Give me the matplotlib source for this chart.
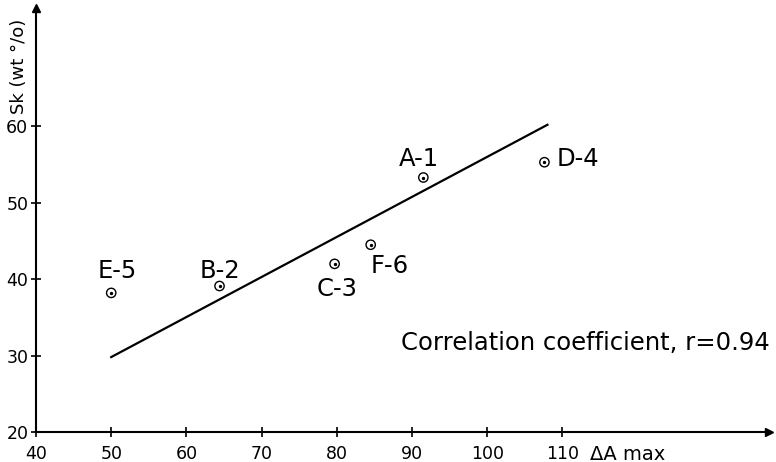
import matplotlib
matplotlib.use("Agg")
import matplotlib.pyplot as plt

# Data
labels = ["E-5", "B-2", "C-3", "F-6", "A-1", "D-4"]
delta_a_max = [50.0, 64.4, 79.7, 84.5, 91.5, 107.6]
sk_wt = [38.2, 39.1, 42.0, 44.5, 53.3, 55.3]
fit_x = [50.0, 108.0]
fit_y = [29.8, 60.2]
x_ticks = [40, 50, 60, 70, 80, 90, 100, 110]
y_ticks = [20, 30, 40, 50, 60]

# label offsets in points (styling)
offsets = {"E-5": (4, 15.5), "B-2": (0, 11), "C-3": (2, -18), "F-6": (14, -15),
           "A-1": (-3.5, 13.5), "D-4": (24, 2)}

plt.rcParams['font.family'] = ['DejaVu Sans']

fig = plt.figure(figsize=(7.76, 4.62), dpi=100)
ax = fig.add_axes([0.0464, 0.065, 0.945, 0.918])
ax.set_xlim(40, 137.5)
ax.set_ylim(20, 75.5)

ax.plot(fit_x, fit_y, color='black', lw=1.6)
ax.scatter(delta_a_max, sk_wt, s=45, facecolors='none', edgecolors='black', linewidths=1.0, zorder=3)
ax.scatter(delta_a_max, sk_wt, s=2, color='black', zorder=4)

for lab, x, y in zip(labels, delta_a_max, sk_wt):
    ax.annotate(lab, (x, y), xytext=offsets[lab], textcoords='offset points',
                ha='center', va='center', fontsize=17.5)

ax.text(1.0, 0.21, "Correlation coefficient, r=0.94", transform=ax.transAxes,
        ha='right', va='center', fontsize=17.5)

for s in ['top', 'right']:
    ax.spines[s].set_visible(False)
for s in ['left', 'bottom']:
    ax.spines[s].set_linewidth(1.5)

ax.plot(1, 0, '>k', transform=ax.transAxes, clip_on=False, markersize=6)
ax.plot(0, 1, '^k', transform=ax.transAxes, clip_on=False, markersize=6)

ax.set_xticks(x_ticks)
ax.set_yticks(y_ticks)
ax.tick_params(axis='both', direction='inout', length=7, width=1.2, labelsize=12.5)
ax.tick_params(axis='x', pad=6)
ax.tick_params(axis='y', pad=2)

ax.text(0.755, -0.052, "ΔA max", transform=ax.transAxes, ha='left', va='center', fontsize=14)
fig.text(0.024, 0.857, "Sk (wt °/o)", rotation=90, ha='center', va='center', fontsize=13)

fig.savefig("out.png", dpi=100)
